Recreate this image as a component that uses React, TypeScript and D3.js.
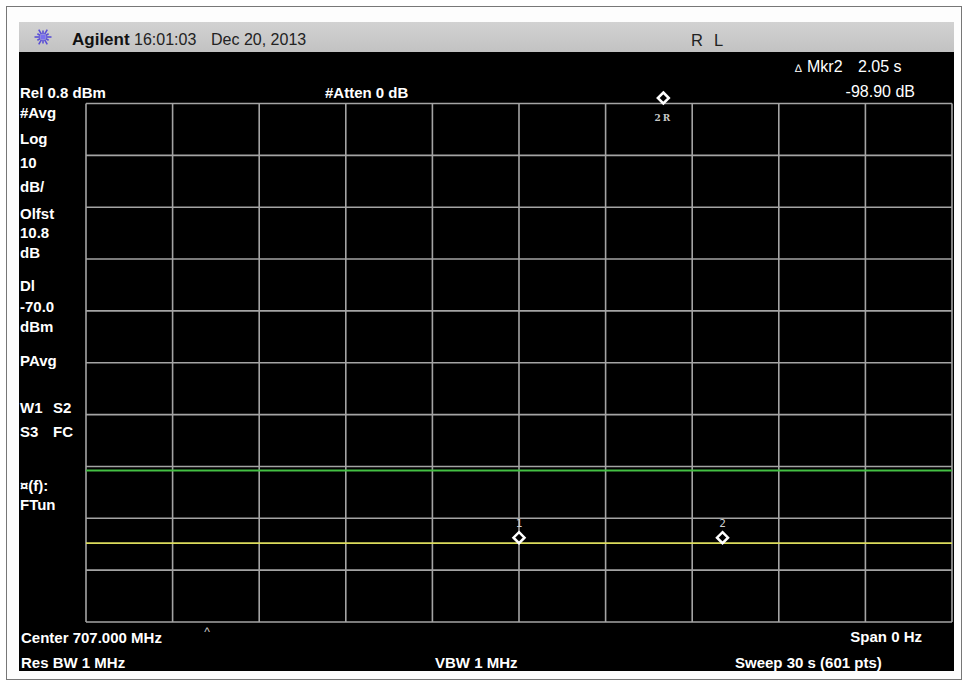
import React from "react";
import * as d3 from "d3";

// ---- data ----
const SWEEP_START_S = 0;
const SWEEP_END_S = 30;
const REF_LEVEL_DBM = 0.8;
const DB_PER_DIV = 10;
const DIVISIONS = 10;

const TIME_GRID_S = [0, 3, 6, 9, 12, 15, 18, 21, 24, 27, 30];
const LEVEL_GRID_DBM = [0.8, -9.2, -19.2, -29.2, -39.2, -49.2, -59.2, -69.2, -79.2, -89.2, -99.2];

const TRACE_TIME_S = [0, 30];
const TRACE_LEVEL_DBM = [-84.0, -84.0];

const DISPLAY_LINE_DBM = -70.0;

const MARKER_LABELS = ["1", "2", "2R"];
const MARKER_TIMES_S = [15.0, 22.05, 20.0];
const MARKER_LEVELS_DBM = [-84.0, -84.0, 14.9];

const LEFT_LABELS = [
  "#Avg", "Log", "10", "dB/", "Olfst", "10.8", "dB", "Dl", "-70.0", "dBm", "PAvg",
];
const LEFT_LABEL_BASELINES = [118, 144, 168, 192, 219, 238, 258, 291, 312, 332, 366];

// ---- layout ----
const W = 968;
const H = 683;
const GX0 = 86;
const GX1 = 952;
const GY0 = 103.5;
const GY1 = 622;

const SANS = "'Liberation Sans', Arial, Helvetica, sans-serif";

export default function App() {
  const x = d3.scaleLinear().domain([SWEEP_START_S, SWEEP_END_S]).range([GX0, GX1]);
  const bottom = REF_LEVEL_DBM - DB_PER_DIV * DIVISIONS;
  const y = d3.scaleLinear().domain([bottom, REF_LEVEL_DBM]).range([GY1, GY0]);

  const traceData = TRACE_TIME_S.map((t, i) => [t, TRACE_LEVEL_DBM[i]] as [number, number]);
  const line = d3
    .line<[number, number]>()
    .x((d) => x(d[0]))
    .y((d) => y(d[1]));

  const markers = MARKER_LABELS.map((label, i) => ({
    label,
    t: MARKER_TIMES_S[i],
    v: MARKER_LEVELS_DBM[i],
  }));

  const diamond = (cx: number, bottomY: number) => {
    const s = 5.5;
    const cy = bottomY - s;
    return `M${cx},${cy - s}L${cx + s},${cy}L${cx},${cy + s}L${cx - s},${cy}Z`;
  };

  // starburst logo
  const rays = d3.range(12).map((k) => (k * Math.PI) / 6);

  const boldText = (txt: string, tx: number, ty: number, anchor: string = "start") => (
    <text
      key={txt + tx + ty}
      x={tx}
      y={ty}
      fill="#fff"
      fontFamily={SANS}
      fontWeight="bold"
      fontSize={15}
      textAnchor={anchor}
    >
      {txt}
    </text>
  );

  return (
    <svg
      width={W}
      height={H}
      style={{ position: "absolute", left: 0, top: 0, display: "block" }}
    >
      <rect x={0} y={0} width={W} height={H} fill="#fff" />
      <rect x={6.5} y={6.5} width={955} height={673} fill="#fdfdfd" stroke="#777" strokeWidth={1} />

      {/* header bar */}
      <defs>
        <linearGradient id="hdr" x1="0" y1="0" x2="0" y2="1">
          <stop offset="0" stopColor="#d2d2d2" />
          <stop offset="1" stopColor="#c2c2c2" />
        </linearGradient>
      </defs>
      <rect x={19} y={22} width={935} height={30} fill="url(#hdr)" />

      {/* logo */}
      <g transform="translate(43,37)">
        {rays.map((a, i) => (
          <line
            key={i}
            x1={Math.cos(a) * 3}
            y1={Math.sin(a) * 3}
            x2={Math.cos(a) * (i % 2 ? 6.5 : 8.5)}
            y2={Math.sin(a) * (i % 2 ? 6.5 : 8.5)}
            stroke="#5a4fd6"
            strokeWidth={1.6}
          />
        ))}
        <circle r={2.8} fill="#7a70ee" />
      </g>
      <text x={72} y={45} fontFamily={SANS} fontWeight="bold" fontSize={17} fill="#111">
        Agilent
      </text>
      <text x={134} y={45} fontFamily={SANS} fontSize={16} fill="#222">
        16:01:03
      </text>
      <text x={211} y={45} fontFamily={SANS} fontSize={16} fill="#222">
        Dec 20, 2013
      </text>
      <text x={691} y={46} fontFamily={SANS} fontSize={16.5} fill="#222">
        R
      </text>
      <text x={714} y={46} fontFamily={SANS} fontSize={16.5} fill="#222">
        L
      </text>

      {/* black screen */}
      <rect x={19} y={52} width={935} height={619} fill="#000" />

      {/* grid */}
      <g stroke="#a4a4a4" strokeWidth={1.6}>
        {TIME_GRID_S.map((t) => (
          <line key={"v" + t} x1={x(t)} x2={x(t)} y1={GY0} y2={GY1} />
        ))}
        {LEVEL_GRID_DBM.map((v) => (
          <line key={"h" + v} x1={GX0} x2={GX1} y1={y(v)} y2={y(v)} />
        ))}
      </g>

      {/* display line */}
      <line
        x1={GX0}
        x2={GX1}
        y1={y(DISPLAY_LINE_DBM)}
        y2={y(DISPLAY_LINE_DBM)}
        stroke="#44c044"
        strokeWidth={2}
      />

      {/* trace */}
      <path d={line(traceData) || ""} fill="none" stroke="#dcdc5c" strokeWidth={1.8} />

      {/* markers */}
      {markers.map((m) => {
        const clamped = Math.min(m.v, REF_LEVEL_DBM);
        const by = y(clamped);
        const cx = x(m.t);
        const isRef = m.label.endsWith("R");
        return (
          <g key={m.label}>
            <path d={diamond(cx, by)} fill="#000" stroke="#fff" strokeWidth={2.5} />
            {isRef ? (
              <text
                x={cx}
                y={by + 17}
                textAnchor="middle"
                fill="#c8c8c8"
                fontFamily="'DejaVu Serif', serif"
                fontSize={9}
                fontWeight="bold"
                letterSpacing={2}
              >
                {m.label}
              </text>
            ) : (
              <text
                x={cx}
                y={by - 16}
                textAnchor="middle"
                fill="#cfcfcf"
                fontFamily="'DejaVu Sans Mono', monospace"
                fontSize={11}
              >
                {m.label}
              </text>
            )}
          </g>
        );
      })}

      {/* annotations top */}
      {boldText("Rel 0.8 dBm", 20, 98)}
      {boldText("#Atten 0 dB", 325, 98)}
      <text x={795} y={72} fill="#fff" fontFamily={SANS} fontSize={11}>
        ∆
      </text>
      <text x={807} y={72} fill="#fff" fontFamily={SANS} fontSize={16}>
        Mkr2
      </text>
      <text x={858} y={72} fill="#fff" fontFamily={SANS} fontSize={16}>
        2.05 s
      </text>
      <text x={915} y={97} fill="#fff" fontFamily={SANS} fontSize={16} textAnchor="end">
        -98.90 dB
      </text>

      {/* left column */}
      {LEFT_LABELS.map((l, i) => boldText(l, 20, LEFT_LABEL_BASELINES[i]))}
      {boldText("W1", 20, 413)}
      {boldText("S2", 53, 413)}
      {boldText("S3", 20, 437)}
      {boldText("FC", 53, 437)}
      {boldText("¤(f):", 20, 491)}
      {boldText("FTun", 20, 510)}

      {/* bottom */}
      {boldText("Center 707.000 MHz", 21, 643)}
      <text x={207} y={636} fill="#ccc" fontFamily={SANS} fontSize={12} textAnchor="middle">
        ^
      </text>
      {boldText("Span 0 Hz", 922, 642, "end")}
      {boldText("Res BW 1 MHz", 21, 668)}
      {boldText("VBW 1 MHz", 435, 668)}
      {boldText("Sweep 30 s (601 pts)", 735, 668)}
    </svg>
  );
}
